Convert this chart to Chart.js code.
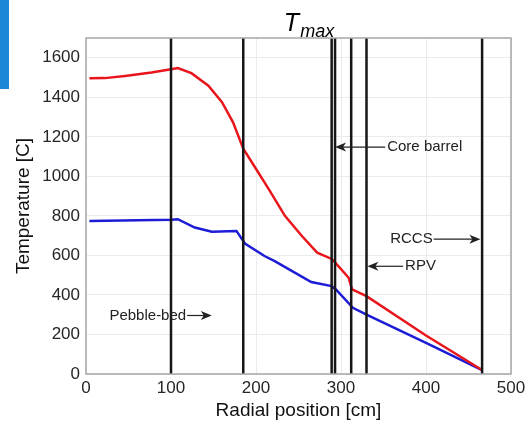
<!DOCTYPE html>
<html>
<head>
<meta charset="utf-8">
<script src="https://cdn.jsdelivr.net/npm/chart.js@4.4.1/dist/chart.umd.min.js"></script>
<style>
  html, body { margin: 0; padding: 0; background: #fff; }
  #wrap { position: relative; width: 532px; height: 427px; }
  #tab { position: absolute; left: 0; top: 0; width: 9px; height: 89px; background: #1b87d6; }
</style>
</head>
<body>
<div id="wrap">
  <canvas id="chart" width="532" height="427"></canvas>
  <div id="tab"></div>
</div>
<script>
// red curve (T max)
const radiusRed = [4, 22, 46, 77, 100, 108, 124, 144, 160, 173, 185, 199, 215, 234, 254, 272, 289, 293, 309, 313, 330, 400, 466];
const tempRed = [1496, 1497, 1508, 1525, 1542, 1548, 1522, 1459, 1375, 1273, 1140, 1045, 935, 800, 698, 614, 582, 565, 487, 428, 394, 195, 20];

// blue curve
const radiusBlue = [4, 100, 108, 128, 148, 177, 187, 210, 222, 265, 289, 294, 314, 330, 400, 466];
const tempBlue = [774, 780, 783, 741, 720, 724, 660, 597, 571, 465, 445, 428, 335, 301, 158, 20];

// region boundaries (vertical black lines)
const boundaries = [100, 185, 289, 293, 312, 330, 466];

// text labels with arrows
const noteText = ['Core barrel', 'RPV', 'RCCS', 'Pebble-bed'];
const noteTemp = [1148, 545, 682, 296];
const noteTail = [352, 373, 409, 119];
const noteHead = [293, 331, 464, 148];

const FONT = "'Liberation Sans', Arial, sans-serif";

const toPts = (xs, ys) => xs.map((x, i) => ({ x: x, y: ys[i] }));

const lineSets = boundaries.map(b => ({
  data: [{ x: b, y: 0 }, { x: b, y: 1700 }],
  borderColor: '#161616',
  borderWidth: 2.5,
  pointRadius: 0,
  order: 0,
}));

const extras = {
  id: 'extras',
  afterDatasetsDraw(chart) {
    const { ctx, chartArea: a, scales: { x, y } } = chart;
    ctx.save();
    // axes box
    ctx.strokeStyle = '#a6a6a6';
    ctx.lineWidth = 1.5;
    ctx.strokeRect(a.left, a.top, a.right - a.left, a.bottom - a.top);

    // arrows + labels
    ctx.font = '15px ' + FONT;
    ctx.fillStyle = '#222';
    ctx.strokeStyle = '#222';
    ctx.lineWidth = 1.2;
    ctx.textBaseline = 'middle';
    noteText.forEach((t, i) => {
      const py = y.getPixelForValue(noteTemp[i]);
      const tx = x.getPixelForValue(noteTail[i]);
      const hx = x.getPixelForValue(noteHead[i]);
      const dir = hx > tx ? 1 : -1;
      ctx.beginPath();
      ctx.moveTo(tx, py);
      ctx.lineTo(hx - dir * 6, py);
      ctx.stroke();
      ctx.beginPath();
      ctx.moveTo(hx, py);
      ctx.lineTo(hx - dir * 11, py - 4.5);
      ctx.lineTo(hx - dir * 8, py);
      ctx.lineTo(hx - dir * 11, py + 4.5);
      ctx.closePath();
      ctx.fill();
      if (dir < 0) {
        ctx.textAlign = 'left';
        ctx.fillText(t, tx + 2, py);
      } else {
        ctx.textAlign = 'right';
        ctx.fillText(t, tx - 1, py);
      }
    });

    // title T_max
    ctx.fillStyle = '#000';
    ctx.textAlign = 'left';
    ctx.textBaseline = 'alphabetic';
    ctx.font = 'italic 25px ' + FONT;
    const tw = ctx.measureText('T').width;
    ctx.font = 'italic 18px ' + FONT;
    const mw = ctx.measureText('max').width;
    const x0 = 309 - (tw + mw + 1) / 2;
    ctx.font = 'italic 25px ' + FONT;
    ctx.fillText('T', x0, 31);
    ctx.font = 'italic 18px ' + FONT;
    ctx.fillText('max', x0 + tw + 1, 37);
    ctx.restore();
  }
};

new Chart(document.getElementById('chart'), {
  type: 'line',
  data: {
    datasets: [
      ...lineSets,
      { data: toPts(radiusRed, tempRed), borderColor: '#e8161c', borderWidth: 2.5, pointRadius: 0, tension: 0, order: 1 },
      { data: toPts(radiusBlue, tempBlue), borderColor: '#1c1cd6', borderWidth: 2.5, pointRadius: 0, tension: 0, order: 1 },
    ],
  },
  options: {
    responsive: false,
    animation: false,
    layout: { padding: { top: 38, right: 21, left: 0, bottom: 0 } },
    plugins: { legend: { display: false }, tooltip: { enabled: false } },
    scales: {
      x: {
        type: 'linear',
        min: 0, max: 500,
        ticks: { stepSize: 100, padding: 4, color: '#262626', font: { family: FONT, size: 17 }, callback: v => String(v) },
        grid: { color: '#ebebeb', drawTicks: false },
        border: { display: false },
        title: { display: true, text: 'Radial position [cm]', color: '#111', font: { family: FONT, size: 19 }, padding: { bottom: 5 } },
        afterFit: s => { s.height = 53; },
      },
      y: {
        min: 0, max: 1700,
        ticks: { stepSize: 200, padding: 6, color: '#262626', font: { family: FONT, size: 17 }, callback: v => String(v) },
        afterBuildTicks: s => { s.ticks = s.ticks.filter(t => t.value % 200 === 0); },
        grid: { color: '#ebebeb', drawTicks: false },
        border: { display: false },
        title: { display: true, text: 'Temperature [C]', color: '#111', font: { family: FONT, size: 19 }, padding: { top: 12 } },
        afterFit: s => { s.width = 86; },
      },
    },
  },
  plugins: [extras],
});
</script>
</body>
</html>
